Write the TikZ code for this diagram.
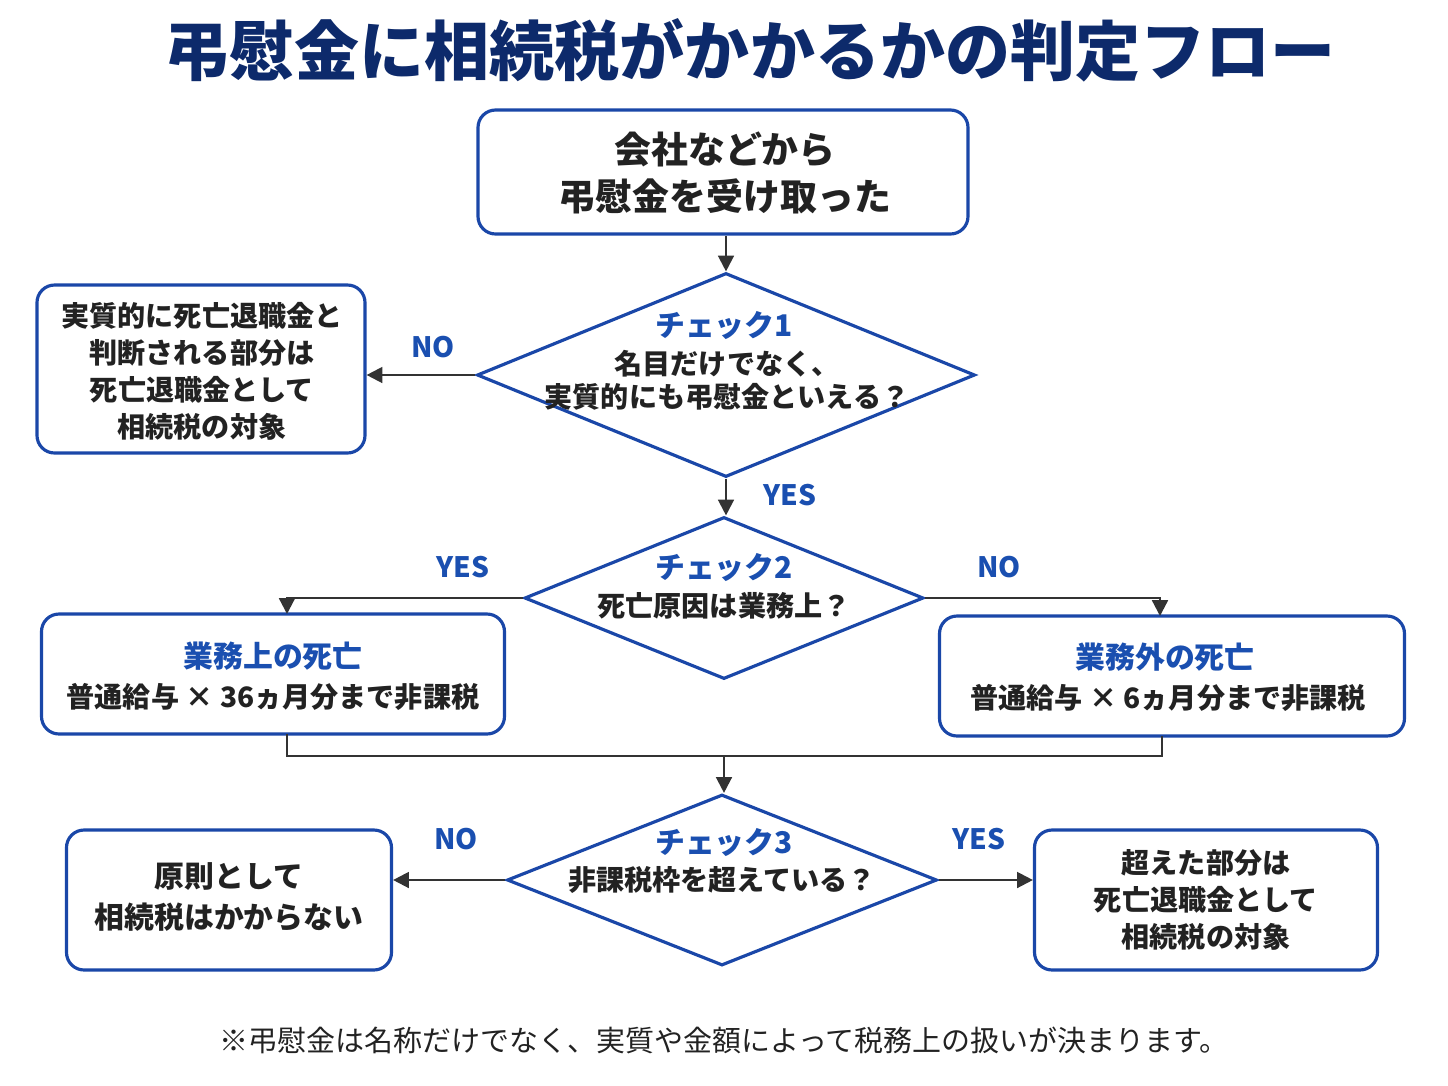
\documentclass[tikz,border=0pt]{standalone}
\usepackage{fontspec}
\setmainfont{Noto Sans CJK JP}
\usetikzlibrary{shapes.geometric,arrows.meta}
\definecolor{navy}{HTML}{0D2A6B}
\definecolor{bblue}{HTML}{1A47A8}
\definecolor{hblue}{HTML}{1A4FB0}
\definecolor{tx}{HTML}{222222}
\definecolor{ln}{HTML}{333333}
\begin{document}
\begin{tikzpicture}[x=0.02cm,y=-0.02cm,
 box/.style={draw=bblue,line width=1.8pt,rounded corners=10pt,fill=white,inner sep=0},
 dia/.style={draw=bblue,line width=1.8pt,diamond,inner sep=0,fill=white},
 t/.style={text=tx,font=\fontsize{16}{18}\selectfont\bfseries,align=center},
 tb/.style={text=tx,font=\fontsize{21}{27}\selectfont\bfseries,align=center},
 hd/.style={text=hblue,font=\fontsize{17}{20}\selectfont\bfseries},
 lab/.style={text=hblue,font=\fontsize{16}{18}\selectfont\bfseries},
 ar/.style={draw=ln,line width=1.3pt,-{Triangle[length=9pt,width=9pt]}},
 li/.style={draw=ln,line width=1.3pt}]
\useasboundingbox (0,0) rectangle (1448,1086);
\node[text=navy,font=\fontsize{37}{40}\selectfont\bfseries] (title) at (750,50) {弔慰金に相続税がかかるかの判定フロー};
\node[box,minimum width=490*0.02cm,minimum height=124*0.02cm] (b1) at (723,172) {};
\node[tb] at (725,173) {会社などから\\弔慰金を受け取った};
\node[dia,minimum width=498*0.02cm,minimum height=204*0.02cm] (d1) at (726,375) {};
\node[hd] at (724,325) {チェック1};
\node[t] at (727,380) {名目だけでなく、\\[1pt]実質的にも弔慰金といえる？};
\node[box,minimum width=328*0.02cm,minimum height=168*0.02cm] (l1) at (201,369) {};
\node[t,font=\fontsize{16}{21}\selectfont\bfseries] at (202,371) {実質的に死亡退職金と\\判断される部分は\\死亡退職金として\\相続税の対象};
\node[dia,minimum width=399*0.02cm,minimum height=162*0.02cm] (d2) at (724,598) {};
\node[hd] at (724,567) {チェック2};
\node[t] at (724,606) {死亡原因は業務上？};
\node[box,minimum width=463*0.02cm,minimum height=120*0.02cm] (b2) at (273,674) {};
\node[hd] at (273,656) {業務上の死亡};
\node[t] at (273,697) {普通給与 × 36ヵ月分まで非課税};
\node[box,minimum width=465*0.02cm,minimum height=120*0.02cm] (b3) at (1172,676) {};
\node[hd] at (1165,657) {業務外の死亡};
\node[t] at (1168,698) {普通給与 × 6ヵ月分まで非課税};
\node[dia,minimum width=430*0.02cm,minimum height=171*0.02cm] (d3) at (722,880) {};
\node[hd] at (724,842) {チェック3};
\node[t] at (722,880) {非課税枠を超えている？};
\node[box,minimum width=325*0.02cm,minimum height=140*0.02cm] (l3) at (229,900) {};
\node[t,font=\fontsize{17}{23}\selectfont\bfseries] at (229,897) {原則として\\相続税はかからない};
\node[box,minimum width=343*0.02cm,minimum height=140*0.02cm] (r3) at (1206,900) {};
\node[t,font=\fontsize{16}{21}\selectfont\bfseries] at (1206,900) {超えた部分は\\死亡退職金として\\相続税の対象};
\node[text=tx,font=\fontsize{16.5}{18}\selectfont] (fn) at (724,1040) {※弔慰金は名称だけでなく、実質や金額によって税務上の扱いが決まります。};
\coordinate (m) at (724,756);
\draw[ar] (d1.north|-b1.south) -- (d1.north);
\draw[ar] (d1.west) -- (l1.east|-d1.west);
\node[lab] at (433,347) {NO};
\draw[ar] (d1.south) -- (d1.south|-d2.north);
\node[lab] at (790,495) {YES};
\draw[ar] (d2.west) -- (287,598) -- (287,614);
\node[lab] at (463,567) {YES};
\draw[ar] (d2.east) -- (1160,598) -- (1160,616);
\node[lab] at (999,567) {NO};
\draw[li] (287,734) -- (287,756) -- (1162,756) -- (1162,736);
\draw[ar] (m) -- (m|-d3.north);
\draw[ar] (d3.west) -- (l3.east|-d3.west);
\node[lab] at (456,839) {NO};
\draw[ar] (d3.east) -- (r3.west|-d3.east);
\node[lab] at (979,839) {YES};
\end{tikzpicture}
\end{document}
